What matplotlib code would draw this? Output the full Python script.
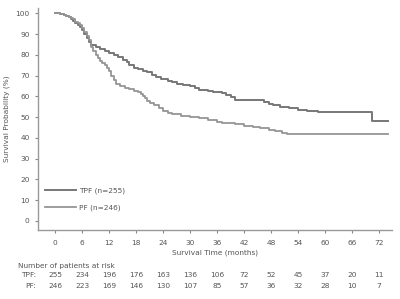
import matplotlib
matplotlib.use("Agg")
import matplotlib.pyplot as plt
import matplotlib.transforms as mtransforms


# Kaplan-Meier steps (months, % surviving)
tpf_time = [0, 1, 2, 2.5, 3, 3.5, 4, 4.5, 5, 5.5, 6, 6.5, 7, 7.5, 8, 9, 10, 11,
            12, 13, 14, 15, 16, 16.5, 17.5, 18.5, 19.5, 20.5, 21.5, 22.5, 23.5,
            25, 26, 27, 28.5, 30, 31, 32, 34, 35, 37, 38, 39, 40, 46.5, 47.5, 48.5,
            50, 52, 54, 56, 58.5, 70.4, 74]
tpf_surv = [100, 99.5, 99, 98.5, 98, 97, 96.5, 95.5, 94.5, 93.5, 92, 90, 88, 86,
            84.5, 84, 83, 82, 81, 80, 79, 77.5, 76.5, 75, 73.5, 73, 72, 71.5, 70.5,
            69.5, 68.5, 67.5, 67, 66, 65.5, 65, 64, 63, 62.5, 62, 61.5, 60.5, 59.5,
            58.3, 57.5, 56.5, 56, 55, 54.3, 53.5, 53, 52.4, 47.9, 47.9]

pf_time = [0, 1, 2, 2.5, 3, 3.5, 4, 4.5, 5, 5.5, 6, 6.5, 7, 7.5, 8, 8.5, 9, 9.5,
           10, 10.5, 11, 11.5, 12, 12.5, 13, 13.5, 14.5, 15.5, 16.5, 17.5, 18.5,
           19, 19.5, 20, 20.5, 21, 22, 23, 24, 25, 26, 28, 30, 32, 34, 36, 37,
           40, 42, 44, 45.5, 47.5, 49, 50.5, 51.5, 74]
pf_surv = [100, 99.5, 99, 98.5, 98, 97.5, 97, 96, 95.5, 94.5, 93, 91, 89, 87,
           84, 82, 80, 78.5, 77, 76, 75, 73.5, 72, 70, 68, 66, 65, 64, 63.5, 62.5,
           62, 61, 60, 59, 58, 57, 56, 54.5, 53, 52, 51.5, 50.5, 50, 49.5, 48.5,
           47.8, 47, 46.5, 45.8, 45.2, 44.7, 44, 43.5, 42.5, 42, 42]

x_ticks = list(range(0, 73, 6))
y_ticks = list(range(0, 101, 10))
tpf_at_risk = [255, 234, 196, 176, 163, 136, 106, 72, 52, 45, 37, 20, 11]
pf_at_risk = [246, 223, 169, 146, 130, 107, 85, 57, 36, 32, 28, 10, 7]

txt = "#555555"
fs = 5.3

fig = plt.figure(figsize=(4.0, 2.99), dpi=100)
ax = fig.add_axes([0.095, 0.231, 0.885, 0.742])

ax.plot(tpf_time, tpf_surv, drawstyle="steps-post", color="#777777", lw=1.4,
        label="TPF (n=255)")
ax.plot(pf_time, pf_surv, drawstyle="steps-post", color="#959595", lw=1.3,
        label="PF (n=246)")

ax.set_xlim(-3.8, 74.9)
ax.set_ylim(-4.3, 102.5)
ax.set_xticks(x_ticks)
ax.set_yticks(y_ticks)
ax.tick_params(labelsize=fs, colors="#888888", labelcolor=txt, length=2.5, width=0.8)
ax.tick_params(axis="x", pad=5)
for side in ["top", "right"]:
    ax.spines[side].set_visible(False)
for side in ["left", "bottom"]:
    ax.spines[side].set_color("#999999")
    ax.spines[side].set_linewidth(1.0)

ax.set_xlabel("Survival Time (months)", fontsize=fs, color=txt, labelpad=2)
ax.set_ylabel("Survival Probability (%)", fontsize=fs, color=txt, labelpad=4)

leg = ax.legend(loc="lower left", bbox_to_anchor=(0.0, 0.055), frameon=False,
                fontsize=fs, handlelength=4.2, labelspacing=1.4, handletextpad=0.5)
for t in leg.get_texts():
    t.set_color(txt)

# number at risk table below the axes
trans = mtransforms.blended_transform_factory(ax.transData, fig.transFigure)
fig.text(0.045, 1 - 266 / 299, "Number of patients at risk", fontsize=fs,
         color=txt, va="center")
fig.text(0.09, 1 - 275 / 299, "TPF:", fontsize=fs, color=txt, va="center", ha="right")
fig.text(0.09, 1 - 286 / 299, "PF:", fontsize=fs, color=txt, va="center", ha="right")
for x, a, b in zip(x_ticks, tpf_at_risk, pf_at_risk):
    ax.text(x, 1 - 275 / 299, str(a), transform=trans, fontsize=fs, color=txt,
            ha="center", va="center")
    ax.text(x, 1 - 286 / 299, str(b), transform=trans, fontsize=fs, color=txt,
            ha="center", va="center")

fig.savefig("out.png", dpi=100)
